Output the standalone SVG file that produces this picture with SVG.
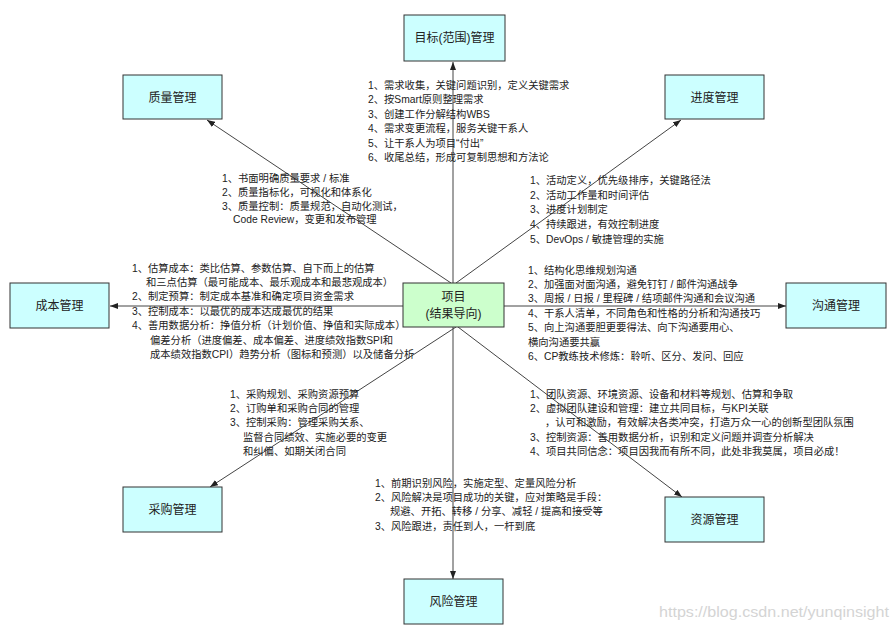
<svg xmlns="http://www.w3.org/2000/svg" width="896" height="630" viewBox="0 0 896 630">
<style>
  .box { fill: #ccffff; stroke: #333333; stroke-width: 1; }
  .center { fill: #ccffcc; stroke: #333333; stroke-width: 1; }
  .lbl { font-family: "Liberation Sans", "Noto Sans CJK SC", sans-serif; font-size: 12px; fill: #222222; text-anchor: middle; }
  .txt { font-family: "Liberation Sans", "Noto Sans CJK SC", sans-serif; font-size: 10.3px; fill: #222222; }
  .conn { stroke: #444444; stroke-width: 1; fill: none; marker-end: url(#arrow); }
  .wm { font-family: "Liberation Sans", "Noto Sans CJK SC", sans-serif; font-size: 14px; fill: #d4d4d4; }
</style>
<defs>
  <marker id="arrow" markerWidth="8" markerHeight="6" refX="8" refY="3" orient="auto" markerUnits="userSpaceOnUse">
    <path d="M0,0 L8,3 L0,6 z" fill="#222222"/>
  </marker>
</defs>
<rect width="896" height="630" fill="#ffffff"/>

<g id="connectors">
  <line class="conn" x1="453" y1="283" x2="453" y2="62"/>
  <line class="conn" x1="451" y1="283" x2="207" y2="120"/>
  <line class="conn" x1="456" y1="283" x2="681" y2="120"/>
  <line class="conn" x1="403" y1="306" x2="110" y2="306"/>
  <line class="conn" x1="504" y1="306" x2="786" y2="306"/>
  <line class="conn" x1="456" y1="327" x2="210" y2="487"/>
  <line class="conn" x1="458" y1="327" x2="682" y2="497"/>
  <line class="conn" x1="453" y1="327" x2="453" y2="579"/>
</g>

<g id="node-scope">
  <rect class="box" x="404" y="15" width="101" height="46"/>
  <text class="lbl" x="454.5" y="42">目标(范围)管理</text>
</g>
<g id="node-quality">
  <rect class="box" x="123" y="75" width="99" height="44"/>
  <text class="lbl" x="172.5" y="102">质量管理</text>
</g>
<g id="node-schedule">
  <rect class="box" x="665" y="75" width="99" height="44"/>
  <text class="lbl" x="714.5" y="102">进度管理</text>
</g>
<g id="node-cost">
  <rect class="box" x="10" y="283" width="99" height="45"/>
  <text class="lbl" x="59.5" y="310">成本管理</text>
</g>
<g id="node-project">
  <rect class="center" x="403" y="283" width="101" height="44"/>
  <text class="lbl" x="453.5" y="301">项目</text>
  <text class="lbl" x="453.5" y="318">(结果导向)</text>
</g>
<g id="node-communication">
  <rect class="box" x="786" y="283" width="100" height="45"/>
  <text class="lbl" x="836" y="310">沟通管理</text>
</g>
<g id="node-procurement">
  <rect class="box" x="123" y="487" width="99" height="45"/>
  <text class="lbl" x="172.5" y="514">采购管理</text>
</g>
<g id="node-resource">
  <rect class="box" x="665" y="497" width="99" height="45"/>
  <text class="lbl" x="714.5" y="524">资源管理</text>
</g>
<g id="node-risk">
  <rect class="box" x="404" y="579" width="99" height="45"/>
  <text class="lbl" x="453.5" y="606">风险管理</text>
</g>

<g id="notes">
  <text class="txt" x="368" y="89">1、需求收集，关键问题识别，定义关键需求</text>
  <text class="txt" x="368" y="103.4">2、按Smart原则整理需求</text>
  <text class="txt" x="368" y="117.8">3、创建工作分解结构WBS</text>
  <text class="txt" x="368" y="132.2">4、需求变更流程，服务关键干系人</text>
  <text class="txt" x="368" y="146.6">5、让干系人为项目“付出”</text>
  <text class="txt" x="368" y="161">6、收尾总结，形成可复制思想和方法论</text>

  <text class="txt" x="222" y="181.5">1、书面明确质量要求 / 标准</text>
  <text class="txt" x="222" y="195.5">2、质量指标化，可视化和体系化</text>
  <text class="txt" x="222" y="209.5">3、质量控制：质量规范，自动化测试，</text>
  <text class="txt" x="233" y="223">Code Review，变更和发布管理</text>

  <text class="txt" x="530" y="183.5">1、活动定义，优先级排序，关键路径法</text>
  <text class="txt" x="530" y="198.5">2、活动工作量和时间评估</text>
  <text class="txt" x="530" y="213">3、进度计划制定</text>
  <text class="txt" x="530" y="228">4、持续跟进，有效控制进度</text>
  <text class="txt" x="530" y="243">5、DevOps / 敏捷管理的实施</text>

  <text class="txt" x="132" y="271.5">1、估算成本：类比估算、参数估算、自下而上的估算</text>
  <text class="txt" x="146" y="285.9">和三点估算（最可能成本、最乐观成本和最悲观成本）</text>
  <text class="txt" x="132" y="300.3">2、制定预算：制定成本基准和确定项目资金需求</text>
  <text class="txt" x="132" y="314.7">3、控制成本：以最优的成本达成最优的结果</text>
  <text class="txt" x="132" y="329.1">4、善用数据分析：挣值分析（计划价值、挣值和实际成本）</text>
  <text class="txt" x="150" y="343.5">偏差分析（进度偏差、成本偏差、进度绩效指数SPI和</text>
  <text class="txt" x="150" y="357.9">成本绩效指数CPI）趋势分析（图标和预测）以及储备分析</text>

  <text class="txt" x="528" y="273.5">1、结构化思维规划沟通</text>
  <text class="txt" x="528" y="287.9">2、加强面对面沟通，避免钉钉 / 邮件沟通战争</text>
  <text class="txt" x="528" y="302.3">3、周报 / 日报 / 里程碑 / 结项邮件沟通和会议沟通</text>
  <text class="txt" x="528" y="316.7">4、干系人清单，不同角色和性格的分析和沟通技巧</text>
  <text class="txt" x="528" y="331.1">5、向上沟通要胆更要得法、向下沟通要用心、</text>
  <text class="txt" x="528" y="345.5">横向沟通要共赢</text>
  <text class="txt" x="528" y="359.9">6、CP教练技术修炼：聆听、区分、发问、回应</text>

  <text class="txt" x="230" y="397.5">1、采购规划、采购资源预算</text>
  <text class="txt" x="230" y="411.9">2、订购单和采购合同的管理</text>
  <text class="txt" x="230" y="426.3">3、控制采购：管理采购关系、</text>
  <text class="txt" x="243" y="440.7">监督合同绩效、实施必要的变更</text>
  <text class="txt" x="243" y="455.1">和纠偏、如期关闭合同</text>

  <text class="txt" x="530" y="397.5">1、团队资源、环境资源、设备和材料等规划、估算和争取</text>
  <text class="txt" x="530" y="411.9">2、虚拟团队建设和管理：建立共同目标，与KPI关联</text>
  <text class="txt" x="545" y="426.3">，认可和激励，有效解决各类冲突，打造万众一心的创新型团队氛围</text>
  <text class="txt" x="530" y="440.7">3、控制资源：善用数据分析，识别和定义问题并调查分析解决</text>
  <text class="txt" x="530" y="455.1">4、项目共同信念：项目因我而有所不同，此处非我莫属，项目必成！</text>

  <text class="txt" x="375" y="486.5">1、前期识别风险，实施定型、定量风险分析</text>
  <text class="txt" x="375" y="500.9">2、风险解决是项目成功的关键，应对策略是手段：</text>
  <text class="txt" x="390" y="515.3">规避、开拓、转移 / 分享、减轻 / 提高和接受等</text>
  <text class="txt" x="375" y="529.7">3、风险跟进，责任到人，一杆到底</text>
</g>

<text class="wm" x="659" y="617" textLength="230" lengthAdjust="spacingAndGlyphs">https://blog.csdn.net/yunqinsight</text>
</svg>
